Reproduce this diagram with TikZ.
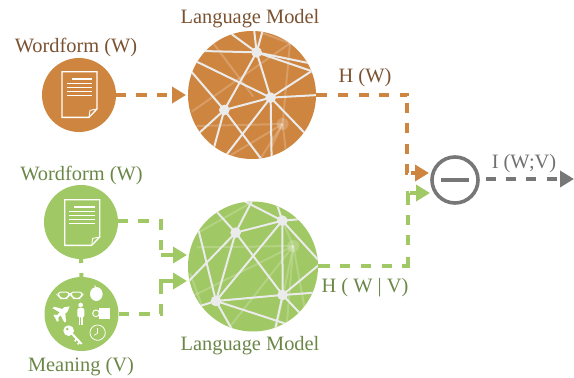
\documentclass[tikz,border=0pt]{standalone}
\usepackage{fontspec}
\setmainfont{Liberation Serif}
\usetikzlibrary{arrows.meta}
\definecolor{org}{HTML}{CE853F}
\definecolor{grn}{HTML}{A0C864}
\definecolor{gry}{HTML}{777777}
\definecolor{tbrown}{HTML}{7B5231}
\definecolor{tgreen}{HTML}{6B8748}
\definecolor{tgray}{HTML}{707070}
\definecolor{net}{HTML}{EBEBEB}
\tikzset{
  blob/.style={circle,inner sep=0pt,outer sep=0pt,draw=none,minimum size=#1},
  conn/.style={line width=4pt,-{Triangle[length=14pt,width=16pt]}},
  lab/.style={inner sep=0pt,font=\fontsize{20.4}{24}\selectfont},
  bright/.style={draw=net,line width=2pt},
  faint/.style={draw=white,opacity=.2,line width=2pt},
  dot/.style={fill=net,draw=none},
  ico/.style={draw=white,line width=1pt},
  icf/.style={fill=white,draw=none},
  zoomed/.style={x=0.3333pt,y=-0.3333pt}
}
\newcommand{\docicon}{%
  \draw[ico,line width=1.3pt] (0,0) -- (105,0) -- (105,112) -- (81,137) -- (0,137) -- cycle;
  \draw[ico,line width=.9pt] (105,112) -- (84,116) -- (81,137);
  \foreach \yy/\xa in {22/29,35/14,47/14,59/14,71/14}
    \draw[draw=white,line width=1.5pt] (\xa,\yy) -- (91,\yy);
}
\begin{document}
\begin{tikzpicture}[x=1pt,y=-1pt]
\useasboundingbox (0,0) rectangle (574,378);
% circles
\node[blob=74pt,fill=org] (wfa) at (79,95) {};
\node[blob=128pt,fill=org] (lma) at (252,95) {};
\node[blob=74pt,fill=grn] (wfb) at (81,222) {};
\node[blob=74pt,fill=grn] (mean) at (81.5,314) {};
\node[blob=130pt,fill=grn] (lmb) at (253,266.5) {};
\node[circle,draw=gry,line width=3.6pt,minimum size=46pt,inner sep=0pt] (minus) at (455,180) {};
\draw[gry,line width=3.6pt] (441,180) -- (469,180);
% orange network
\begin{scope}
\clip (252,95) circle (64);
\begin{scope}[zoomed]
\foreach \a/\b/\c/\d in {848/372/590/378,848/372/685/470,848/372/870/130,848/372/860/470,848/372/780/478,870/130/575/335,640/130/760/290,790/100/870/130,848/372/815/440}
  \draw[faint] (\a,\b) -- (\c,\d);
\fill[white,opacity=.2] (848,372) circle (18);
\foreach \a/\b/\c/\d in {770/157/762/85,770/157/790/85,770/157/685/95,770/157/605/153,770/157/930/190,770/157/940/215,770/157/812/293,770/157/673/330,812/293/580/180,812/293/940/210,812/293/955/285,812/293/815/480,812/293/920/405,812/293/673/330,673/330/570/210,673/330/580/415,673/330/640/450,673/330/790/485,812/293/675/470}
  \draw[bright] (\a,\b) -- (\c,\d);
\foreach \a/\b in {770/157,812/293,673/330}
  \fill[dot] (\a,\b) circle (16);
\end{scope}
\end{scope}
% green network
\begin{scope}
\clip (253,266.5) circle (65);
\begin{scope}[zoomed,yshift=-160pt]
\foreach \a/\b/\c/\d in {880/258/590/262,880/258/575/410,880/258/690/500,880/258/915/450,880/258/860/500,600/215/750/130,880/258/847/182,880/258/830/500,605/435/570/340}
  \draw[faint] (\a,\b) -- (\c,\d);
\fill[white,opacity=.2] (880,258) circle (18);
\foreach \a/\b/\c/\d in {847/182/707/218,707/218/650/155,707/218/755/125,847/182/730/122,847/182/830/130,847/182/895/178,847/182/955/300,847/182/848/405,847/182/648/423,707/218/648/423,707/218/848/405,648/423/848/405,848/405/960/312,848/405/945/398,848/405/905/465,848/405/825/510,648/423/860/492,648/423/697/510,648/423/596/212,648/423/600/438,560/370/707/218}
  \draw[bright] (\a,\b) -- (\c,\d);
\foreach \a/\b in {847/182,707/218,648/423,848/405}
  \fill[dot] (\a,\b) circle (16);
\end{scope}
\end{scope}
% document icons
\begin{scope}[shift={(62,71.7)},zoomed]\docicon\end{scope}
\begin{scope}[shift={(64.7,199.7)},zoomed]\docicon\end{scope}
% meaning icons
\begin{scope}[shift={(30,270)},zoomed]
  % glasses
  \draw[ico,line width=1pt,rounded corners=3pt] (84,66) -- (118,66) -- (116,78) -- (108,86) -- (94,86) -- (86,78) -- cycle;
  \draw[ico,line width=1pt,rounded corners=3pt] (122,66) -- (157,66) -- (155,78) -- (147,86) -- (133,86) -- (125,78) -- cycle;
  \draw[ico,line width=1pt] (118,69) -- (122,69);
  % apple
  \fill[icf] (199,72) ellipse (19 and 21);
  \draw[ico,line width=.7pt] (198,53) -- (194,46);
  % plane
  \fill[icf] (119,109) -- (112,126) -- (106,130) -- (108,155) -- (103,157) -- (92,136) -- (85,143) -- (86,153) -- (81,155) -- (75,143) -- (71,137) -- (72,134) -- (82,135) -- (89,127) -- (68,115) -- (72,110) -- (97,117) -- (102,112) -- cycle;
  % person
  \fill[icf] (152,105) circle (7);
  \fill[icf,rounded corners=2pt] (142,114) rectangle (163,142);
  \fill[icf] (146,135) rectangle (151,165);
  \fill[icf] (154,135) rectangle (159,165);
  % mug
  \fill[icf] (209,115) rectangle (240,146);
  \draw[ico] (198,130) circle (10);
  \fill[icf] (208,115) rectangle (214,146);
  % key
  \fill[icf] (116,182) circle (16);
  \draw[draw=white,line width=2pt] (122,187) -- (155,222);
  \draw[draw=white,line width=1.5pt] (140,207) -- (134,214);
  \draw[draw=white,line width=1.5pt] (149,216) -- (143,223);
  \fill[grn] (112,177) circle (4);
  % clock
  \draw[ico,line width=.8pt] (203,188) circle (23);
  \draw[ico,line width=.7pt] (203,190) -- (203,173);
  \draw[ico,line width=.7pt] (203,190) -- (192,196);
\end{scope}
% connectors
\coordinate (cb1) at (161,221);
\coordinate (cb2) at (161,255);
\coordinate (cb3) at (161,314);
\coordinate (cb4) at (161,281);
\coordinate (ca1) at (407,95);
\coordinate (ca2) at (407,173);
\coordinate (cg1) at (408,265.5);
\coordinate (cg2) at (408,193);
\coordinate (tipa) at (429,173);
\coordinate (tipg) at (430,193);
\coordinate (tipo) at (574,179);
\coordinate (tip1) at (186,95);
\coordinate (tip2) at (187,255);
\coordinate (tip3) at (187,281);
\draw[conn,org,dash pattern=on 10.3pt off 10pt] (wfa.east) -- (tip1);
\draw[conn,org,dash pattern=on 11.3pt off 10.7pt on 10pt off 10.7pt on 10pt off 10.7pt on 10pt off 10.7pt on 7.7pt off 6.7pt on 10pt off 10pt on 10pt off 11pt on 10.6pt off 10pt on 10pt off 2.6pt on 100pt off 1pt] (lma.east) -- (ca1) -- (ca2) -- (tipa);
\draw[conn,grn,dash pattern=on 12pt off 10.3pt on 10pt off 10.7pt on 10pt off 10.7pt on 10pt off 10.3pt on 15pt off 11.7pt on 10pt off 10pt on 10pt off 10pt on 12pt off 1.5pt on 100pt off 1pt] (lmb.east |- cg1) -- (cg1) -- (cg2) -- (tipg);
\draw[conn,grn,dash pattern=on 10pt off 10pt on 11pt off 10.3pt on 10.3pt off 10pt on 10pt off 5.7pt on 100pt off 1pt] (wfb.east |- cb1) -- (cb1) -- (cb2) -- (tip2);
\draw[conn,grn,dash pattern=on 10pt off 10pt on 11pt off 10.3pt on 11pt off 10pt on 100pt off 1pt] (mean.east) -- (cb3) -- (cb4) -- (tip3);
\draw[line width=4pt,grn,dash pattern=on 4pt off 10pt on 4pt off 10pt] (wfb.south) -- (mean.north);
\draw[conn,gry,dash pattern=on 10pt off 10.3pt] (minus.east |- tipo) ++(6,0) coordinate (ostart) (ostart) -- (tipo);
% labels
\node[lab,text=tbrown] (t1) at (250,19) {Language Model};
\node[lab,text=tbrown] (t2) at (76,47) {Wordform (W)};
\node[lab,text=tgreen] (t3) at (81.5,175) {Wordform (W)};
\node[lab,text=tgreen] (t4) at (81,367) {Meaning (V)};
\node[lab,text=tgreen] (t5) at (250,346) {Language Model};
\node[lab,text=tbrown] (t6) at (365,78) {H (W)};
\node[lab,text=tgreen] (t7) at (365,288) {H ( W | V)};
\node[lab,text=tgray] (t8) at (524,164) {I (W;V)};
\end{tikzpicture}
\end{document}
